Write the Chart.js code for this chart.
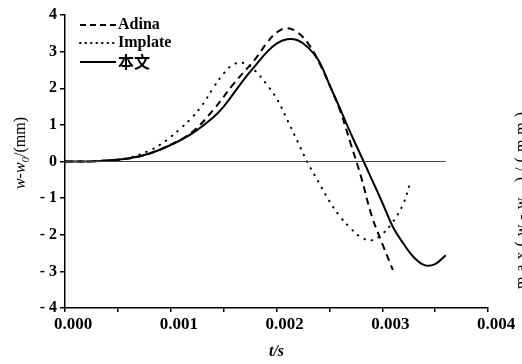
<!DOCTYPE html>
<html><head><meta charset="utf-8">
<script src="https://cdn.jsdelivr.net/npm/chart.js@4.4.1/dist/chart.umd.min.js"></script>
<style>html,body{margin:0;padding:0;background:#fff;}#wrap{width:522px;height:364px;}</style>
</head><body><div id="wrap"><canvas id="c" width="522" height="364"></canvas></div>
<script>
// ---- data ----
const seriesNames = ['Adina', 'Implate', '本文'];

const tAdina = [0, 0.0002, 0.0004, 0.0006, 0.0008, 0.0010, 0.0012, 0.0014, 0.0016, 0.0018, 0.0019, 0.0020, 0.0021, 0.0022, 0.0023, 0.0024, 0.0025, 0.0026, 0.0027, 0.0028, 0.0029, 0.0030, 0.0031];
const yAdina = [0, 0, 0.03, 0.08, 0.22, 0.46, 0.80, 1.40, 2.14, 2.80, 3.20, 3.52, 3.64, 3.52, 3.22, 2.72, 2.10, 1.40, 0.50, -0.42, -1.48, -2.24, -2.96];

const tImplate = [0, 0.0002, 0.0004, 0.0006, 0.0008, 0.0009, 0.0010, 0.0011, 0.0012, 0.0013, 0.0014, 0.0015, 0.0016, 0.0017, 0.0018, 0.0019, 0.0020, 0.0021, 0.0022, 0.0023, 0.0024, 0.0025, 0.0026, 0.0027, 0.0028, 0.0029, 0.0030, 0.0031, 0.0032, 0.00326];
const yImplate = [0, 0, 0.03, 0.10, 0.30, 0.46, 0.67, 0.92, 1.20, 1.55, 2.00, 2.40, 2.66, 2.68, 2.47, 2.13, 1.73, 1.15, 0.54, -0.06, -0.57, -1.08, -1.50, -1.82, -2.07, -2.15, -1.98, -1.65, -1.15, -0.61];

const tBenwen = [0, 0.0002, 0.0004, 0.0006, 0.0008, 0.0010, 0.0012, 0.0014, 0.0015, 0.0016, 0.0017, 0.0018, 0.0019, 0.0020, 0.0021, 0.0022, 0.0023, 0.0024, 0.0025, 0.0026, 0.0027, 0.0028, 0.0029, 0.0030, 0.0031, 0.0032, 0.0033, 0.0034, 0.0035, 0.0036];
const yBenwen = [0, 0, 0.03, 0.08, 0.22, 0.45, 0.76, 1.20, 1.50, 1.88, 2.27, 2.62, 2.96, 3.22, 3.34, 3.31, 3.11, 2.75, 2.10, 1.45, 0.78, 0.15, -0.48, -1.12, -1.78, -2.24, -2.62, -2.83, -2.80, -2.56];

const tZero = [0, 0.0036];
const yZero = [0, 0];

const xTickValues = [0, 0.001, 0.002, 0.003, 0.004];
const yTickValues = [-4, -3, -2, -1, 0, 1, 2, 3, 4];

const xTitle = 't/s';
const yTitleParts = ['w-w', '0', '/(mm)'];
const neighbourTitle = 'max(w-w\u2080)/(mm)';

// ---- helpers ----
const pts = (t, y) => t.map((v, i) => ({x: v, y: y[i]}));
const SERIF = '"Liberation Serif", "DejaVu Serif", serif';

const legendPlugin = {
  id: 'customLegend',
  afterDraw(chart) {
    const ctx = chart.ctx;
    ctx.save();
    const rows = [25, 43, 62];
    let r = 0;
    chart.data.datasets.forEach(ds => {
      if (!ds.inLegend) return;
      const y = rows[r++];
      ctx.beginPath();
      ctx.setLineDash(ds.legendDash || []);
      ctx.lineCap = ds.borderCapStyle || 'butt';
      ctx.lineWidth = ds.borderWidth;
      ctx.strokeStyle = ds.borderColor;
      ctx.moveTo(80, y); ctx.lineTo(116, y);
      ctx.stroke();
      ctx.setLineDash([]);
      ctx.fillStyle = '#000';
      ctx.textBaseline = 'middle';
      ctx.textAlign = 'left';
      ctx.font = /[\u4e00-\u9fff]/.test(ds.label) ? 'bold 16px "Noto Sans CJK SC", sans-serif' : 'bold 16px ' + SERIF;
      ctx.fillText(ds.label, 118, y);
    });
    ctx.restore();
  }
};

const titlePlugin = {
  id: 'yTitle',
  afterDraw(chart) {
    const ctx = chart.ctx;
    ctx.save();
    const f1 = 'italic 16px ' + SERIF, f2 = 'italic 11px ' + SERIF, f3 = '16px ' + SERIF;
    ctx.font = f1; const w1 = ctx.measureText(yTitleParts[0]).width;
    ctx.font = f2; const w2 = ctx.measureText(yTitleParts[1]).width;
    ctx.font = f3; const w3 = ctx.measureText(yTitleParts[2]).width;
    const total = w1 + w2 + w3;
    ctx.translate(25, 153);
    ctx.rotate(-Math.PI / 2);
    ctx.fillStyle = '#000';
    ctx.textBaseline = 'alphabetic';
    ctx.textAlign = 'left';
    let x = -total / 2;
    ctx.font = f1; ctx.fillText(yTitleParts[0], x, 0); x += w1;
    ctx.font = f2; ctx.fillText(yTitleParts[1], x, 4); x += w2;
    ctx.font = f3; ctx.fillText(yTitleParts[2], x, 0);
    ctx.restore();
    ctx.save();
    ctx.translate(526, 198);
    ctx.rotate(-Math.PI / 2);
    ctx.font = '16px ' + SERIF;
    if ('letterSpacing' in ctx) ctx.letterSpacing = '5px';
    ctx.textAlign = 'center';
    ctx.textBaseline = 'alphabetic';
    ctx.fillStyle = '#000';
    ctx.fillText(neighbourTitle, 0, 0);
    ctx.restore();
  }
};

const chart = new Chart(document.getElementById('c'), {
  type: 'line',
  data: {
    datasets: [
      { label: 'zero', data: pts(tZero, yZero), borderColor: '#444', borderWidth: 1, pointRadius: 0, tension: 0 },
      { label: seriesNames[0], inLegend: true, data: pts(tAdina, yAdina), borderColor: '#000', borderWidth: 2, borderDash: [7, 5], legendDash: [6, 4], pointRadius: 0, tension: 0.4 },
      { label: seriesNames[1], inLegend: true, data: pts(tImplate, yImplate), borderColor: '#000', borderWidth: 2, borderDash: [0.5, 7], legendDash: [0.5, 5], borderCapStyle: 'round', pointRadius: 0, tension: 0.4 },
      { label: seriesNames[2], inLegend: true, data: pts(tBenwen, yBenwen), borderColor: '#000', borderWidth: 2, pointRadius: 0, tension: 0.4 }
    ]
  },
  options: {
    responsive: false,
    devicePixelRatio: 1,
    animation: false,
    layout: { padding: { top: 15, right: 34, bottom: 0, left: 0 } },
    plugins: { legend: { display: false }, tooltip: { enabled: false } },
    scales: {
      x: {
        type: 'linear', position: 'bottom', min: 0, max: 0.004,
        afterBuildTicks: s => {
          const arr = [];
          for (let i = 0; i < xTickValues.length; i++) {
            arr.push({value: xTickValues[i]});
            if (i < xTickValues.length - 1) arr.push({value: (xTickValues[i] + xTickValues[i + 1]) / 2, minor: true});
          }
          s.ticks = arr;
        },
        ticks: {
          autoSkip: false, maxRotation: 0, minRotation: 0, padding: 2, labelOffset: 8, color: '#000',
          font: { family: SERIF, size: 17, weight: 'bold' },
          callback: function (v) { return xTickValues.some(t => Math.abs(t - v) < 1e-9) ? v.toFixed(3) : ''; }
        },
        grid: { drawOnChartArea: false, drawTicks: true, tickLength: 4, color: '#000', lineWidth: 1.5 },
        border: { display: true, color: '#000', width: 1.5 },
        title: { display: true, text: xTitle, color: '#000', font: { family: SERIF, size: 16, style: 'italic', weight: 'bold' }, padding: { top: 0, bottom: 3 } },
        afterFit: s => { s.height = 56; s.paddingLeft = 0; s.paddingRight = 0; }
      },
      y: {
        type: 'linear', min: -4, max: 4,
        afterBuildTicks: s => { s.ticks = yTickValues.map(v => ({value: v})); },
        ticks: {
          padding: 3, color: '#000',
          font: { family: SERIF, size: 16, weight: 'bold' },
          callback: v => v < 0 ? '- ' + Math.abs(v) : String(v)
        },
        grid: { drawOnChartArea: false, drawTicks: true, tickLength: 5, color: '#000', lineWidth: 1.5 },
        border: { display: true, color: '#000', width: 1.5 },
        afterFit: s => { s.width = 65; s.paddingTop = 0; s.paddingBottom = 0; }
      }
    }
  },
  plugins: [legendPlugin, titlePlugin]
});
</script>
</body></html>
